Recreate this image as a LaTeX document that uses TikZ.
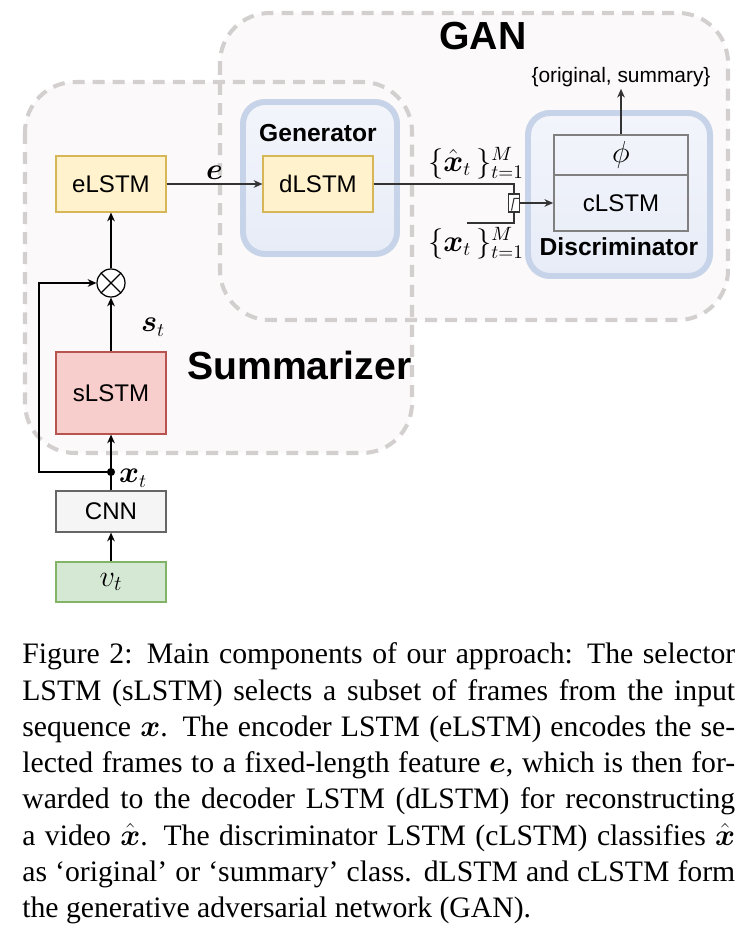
\documentclass[tikz,border=0pt]{standalone}
\usepackage{amssymb}
\usepackage{amsmath}
\usepackage{fontspec}
\setmainfont{Liberation Serif}
\setsansfont{Liberation Sans}
\usepackage{tikz}
\usetikzlibrary{calc}
\usetikzlibrary{arrows.meta}
\definecolor{regionfill}{HTML}{FBF9F9}
\definecolor{regiondash}{HTML}{D3CFCF}
\definecolor{glasstop}{HTML}{F3F5FB}
\definecolor{glassfill}{HTML}{E7ECF7}
\definecolor{glassdraw}{HTML}{C6D3E8}
\definecolor{yellowfill}{HTML}{FFF2CC}
\definecolor{yellowdraw}{HTML}{D6B656}
\definecolor{redfill}{HTML}{F8CECC}
\definecolor{reddraw}{HTML}{B85450}
\definecolor{greyfill}{HTML}{F5F5F5}
\definecolor{greydraw}{HTML}{666666}
\definecolor{greenfill}{HTML}{D5E8D4}
\definecolor{greendraw}{HTML}{82B366}
\definecolor{darkline}{HTML}{333333}

\begin{document}
\begin{tikzpicture}[x=0.02cm,y=-0.02cm]
		\tikzset{
			region/.style={draw=regiondash,line width=2.3pt,dash pattern=on 6.8pt off 4.6pt,rounded corners=1cm},
			glass/.style={draw=glassdraw,top color=glasstop,bottom color=glassfill,line width=3.4pt,rounded corners=0.44cm},
			block/.style={draw,line width=0.7pt,minimum width=2.2cm,inner sep=0pt,font=\sffamily\fontsize{13.7}{15}\selectfont},
			textnode/.style={text=black,inner sep=1pt},
			title/.style={text=black,font=\sffamily\bfseries\fontsize{22.3}{25}\selectfont},
			subtitle/.style={text=black,font=\sffamily\bfseries\fontsize{14}{16}\selectfont},
			edge/.style={color=black,line width=0.7pt,-{Stealth[length=5pt,width=4.4pt]}},
		}
		\useasboundingbox (0,0) rectangle (755,928);
		
		% shaded regions
		\fill[regionfill,rounded corners=1cm] (220,13) rectangle (728,320);
		\fill[regionfill,rounded corners=1cm] (25,82) rectangle (412,453);
		\draw[region] (220,13) rectangle (728,320);
		\draw[region] (25,82) rectangle (412,453);
		\node[title] (gan) at (483,36) {GAN};
		\node[title,anchor=west] (summ) at (181,365) {Summarizer};
		
		% generator and discriminator
		\draw[glass] (243,102) rectangle (397,254);
		\draw[glass] (528,113) rectangle (710,276);
		\node[subtitle] (gen) at (318,133) {Generator};
		\node[subtitle] (disc) at (619,247) {Discriminator};
		
		% blocks
		\node[block,draw=yellowdraw,fill=yellowfill,minimum height=1.12cm] (eLSTM) at (111,184) {eLSTM};
		\node[block,draw=yellowdraw,fill=yellowfill,minimum height=1.12cm] (dLSTM) at (318,184) {dLSTM};
		\node[block,draw=reddraw,fill=redfill,minimum height=1.64cm] (sLSTM) at (111,393) {sLSTM};
		\node[block,draw=greydraw,fill=greyfill,minimum height=0.82cm] (CNN) at (111,511.5) {CNN};
		\node[block,draw=greendraw,fill=greenfill,minimum height=0.8cm] (vt) at (111,582) {\fontsize{18}{20}\selectfont$v_t$};
		\node[block,draw=gray,line width=1pt,minimum width=2.68cm,minimum height=1.12cm] (cLSTM) at (621,203) {cLSTM};
		\node[block,draw=gray,line width=1pt,minimum width=2.68cm,minimum height=0.8cm] (phi) at (621,155) {\fontsize{19}{21}\selectfont$\phi$};
		\node[circle,draw,fill=white,line width=0.7pt,minimum size=0.56cm,inner sep=0pt,
			path picture={\draw[line width=0.7pt] (path picture bounding box.north west) -- (path picture bounding box.south east)
				(path picture bounding box.north east) -- (path picture bounding box.south west);}] (prod) at (111,283) {};
		\node[draw=darkline,fill=white,line width=0.7pt,minimum width=0.22cm,minimum height=0.36cm,inner sep=0pt] (switch) at (514,203) {};
		\draw[darkline,line width=0.6pt] ($(switch.south)+(-2.5,-2)$) -- ($(switch.north)+(0,5)$) -- ($(switch.north east)+(-1,5)$);
		
		% labels
		\node[textnode,font=\sffamily\fontsize{11.9}{13}\selectfont] (out) at (621,77) {\{original, summary\}};
		\node[textnode,font=\fontsize{16}{18}\selectfont] (fake) at (476,163) {$\{\hat{\boldsymbol{x}}_t\,\}_{t=1}^M$};
		\node[textnode,font=\fontsize{16}{18}\selectfont] (real) at (476,243) {$\{\boldsymbol{x}_t\,\}_{t=1}^M$};
		\node[textnode,font=\fontsize{16}{18}\selectfont] (st) at (153,327) {$\boldsymbol{s}_t$};
		\node[textnode,font=\fontsize{16}{18}\selectfont] (xt) at (133,478) {$\boldsymbol{x}_t$};
		
		\coordinate (split) at (111,472);
		\coordinate (loop) at (39,472);
		\coordinate (realin) at (467,223);
		\fill (split) circle (2.3pt);
		
		\draw[edge] (vt) to (CNN);
		\draw[edge] (CNN) to (sLSTM);
		\draw[edge] (split) -- (loop) |- (prod.west);
		\draw[edge] (sLSTM) to (prod);
		\draw[edge] (prod) to (eLSTM);
		\draw[edge,darkline] (eLSTM) to node[textnode,above=1pt,font=\fontsize{16}{18}\selectfont] {$\boldsymbol{e}$} (dLSTM);
		\draw[edge,-,darkline] (dLSTM) -| (switch.north);
		\draw[edge,-,darkline] (realin) -| (switch.south);
		\draw[edge,darkline] (switch) to (cLSTM);
		\draw[edge,darkline] (phi) to (out);
		
		% caption
		\node[anchor=north west,inner sep=0pt,text width=14.26cm,align=justify,font=\fontsize{16.9}{20.65}\selectfont] (caption) at (22,642.5)
			{Figure 2: Main components of our approach: The selector\linebreak
			LSTM (sLSTM) selects a subset of frames from the input\linebreak
			sequence $\boldsymbol{x}$. The encoder LSTM (eLSTM) encodes the se-\linebreak
			lected frames to a fixed-length feature $\boldsymbol{e}$, which is then for-\linebreak
			warded to the decoder LSTM (dLSTM) for reconstructing\linebreak
			a video $\hat{\boldsymbol{x}}$. The discriminator LSTM (cLSTM) classifies $\hat{\boldsymbol{x}}$\linebreak
			as `original' or `summary' class. dLSTM and cLSTM form\linebreak
			the generative adversarial network (GAN).};
	\end{tikzpicture}
\end{document}
